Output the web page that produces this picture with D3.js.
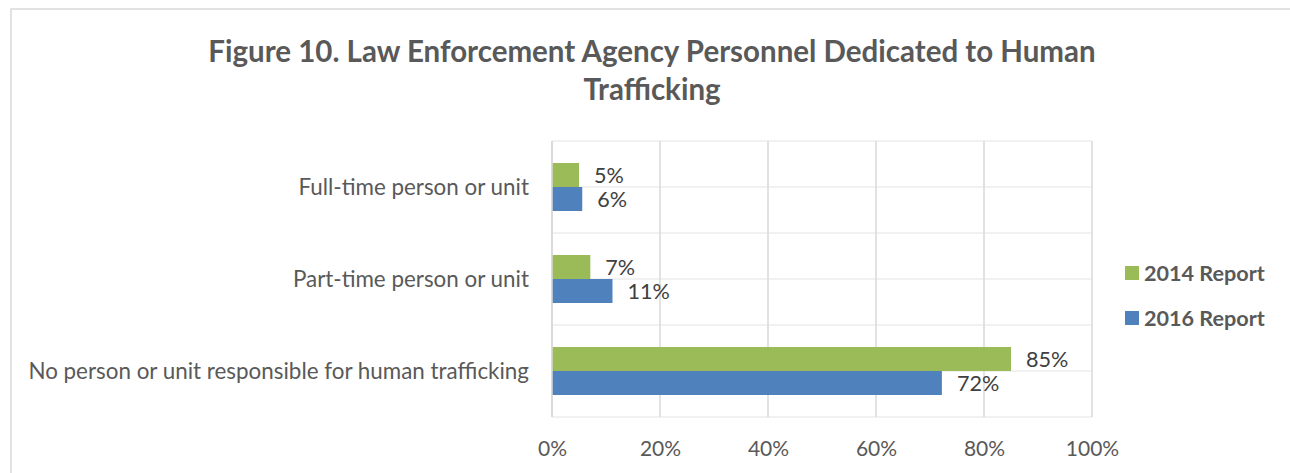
<!DOCTYPE html>
<html lang="en">
<head>
    <meta charset="UTF-8">
    <title>Figure 10</title>
    <script src="https://cdn.jsdelivr.net/npm/d3@7"></script>
    <style>
        body { margin: 0; background: #fff; }
        #chart { width: 1290px; height: 473px; }
        text { font-family: Lato, "Open Sans", sans-serif; }
    </style>
</head>
<body>
    <div id="chart"></div>
<script>
    // data
    const categories = ["Full-time person or unit", "Part-time person or unit", "No person or unit responsible for human trafficking"];
    const seriesNames = ["2014 Report", "2016 Report"];
    const report2014 = [0.050, 0.071, 0.850];
    const report2016 = [0.056, 0.112, 0.722];
    const xTicks = [0, 0.2, 0.4, 0.6, 0.8, 1.0];
    const colors = { "2014 Report": "#9bbb59", "2016 Report": "#4f81bd" };

    const W = 1290, H = 473;
    const svg = d3.select("#chart").append("svg")
        .attr("width", W)
        .attr("height", H);

    // chart border
    svg.append("rect")
        .attr("x", 11).attr("y", 9)
        .attr("width", W + 20).attr("height", H + 20)
        .attr("fill", "none")
        .attr("stroke", "#d9d9d9")
        .attr("stroke-width", 1.5);

    // title
    const title = svg.append("text")
        .attr("text-anchor", "middle")
        .attr("fill", "#595959")
        .attr("font-size", 29.5)
        .attr("font-weight", "bold");
    title.append("tspan").attr("x", 652).attr("y", 62).text("Figure 10. Law Enforcement Agency Personnel Dedicated to Human");
    title.append("tspan").attr("x", 652).attr("y", 100).text("Trafficking");

    const plot = { left: 552, right: 1092, top: 141, bottom: 417 };

    const x = d3.scaleLinear().domain([0, 1]).range([plot.left, plot.right]);
    const y0 = d3.scaleBand().domain(categories).range([plot.top, plot.bottom]);
    const y1 = d3.scaleBand().domain(seriesNames).range([0, y0.bandwidth()]).paddingOuter(0.9167);

    // horizontal grid (band edges and centres)
    const hLines = [];
    categories.forEach(c => { hLines.push(y0(c)); hLines.push(y0(c) + y0.bandwidth() / 2); });
    hLines.push(plot.bottom);
    svg.append("g").selectAll("line").data(hLines).enter().append("line")
        .attr("x1", plot.left).attr("x2", plot.right)
        .attr("y1", d => d).attr("y2", d => d)
        .attr("stroke", "#ececec").attr("stroke-width", 1.5);

    // vertical grid
    svg.append("g").selectAll("line").data(xTicks).enter().append("line")
        .attr("x1", d => x(d)).attr("x2", d => x(d))
        .attr("y1", plot.top).attr("y2", plot.bottom)
        .attr("stroke", "#d9d9d9").attr("stroke-width", 1.5);

    // x axis
    const xAxis = d3.axisBottom(x).tickValues(xTicks).tickFormat(d3.format(".0%")).tickSize(0).tickPadding(0);
    const gx = svg.append("g")
        .attr("transform", "translate(0," + (plot.bottom + 32) + ")")
        .call(xAxis);
    gx.select(".domain").remove();
    gx.selectAll("text")
        .attr("dy", "0.35em")
        .attr("y", 0)
        .attr("font-size", 21)
        .attr("fill", "#595959")
        .style("font-family", "Lato, 'Open Sans', sans-serif");

    // category labels
    svg.append("g").selectAll("text").data(categories).enter().append("text")
        .attr("x", plot.left - 23)
        .attr("y", d => y0(d) + y0.bandwidth() / 2)
        .attr("dy", "0.35em")
        .attr("text-anchor", "end")
        .attr("font-size", 22.4)
        .attr("fill", "#595959")
        .text(d => d);

    // bars
    const rows = categories.map((c, i) => ({
        cat: c,
        values: [{ s: "2014 Report", v: report2014[i] }, { s: "2016 Report", v: report2016[i] }]
    }));
    const groups = svg.append("g").selectAll("g").data(rows).enter().append("g")
        .attr("transform", d => "translate(0," + y0(d.cat) + ")");
    groups.selectAll("rect").data(d => d.values).enter().append("rect")
        .attr("x", x(0))
        .attr("y", d => y1(d.s))
        .attr("width", d => x(d.v) - x(0))
        .attr("height", y1.bandwidth())
        .attr("fill", d => colors[d.s]);
    groups.selectAll("text").data(d => d.values).enter().append("text")
        .attr("x", d => x(d.v) + 15)
        .attr("y", d => y1(d.s) + y1.bandwidth() / 2)
        .attr("dy", "0.35em")
        .attr("font-size", 21.6)
        .attr("fill", "#404040")
        .text(d => d3.format(".0%")(d.v));

    // left axis line
    svg.append("line")
        .attr("x1", plot.left).attr("x2", plot.left)
        .attr("y1", plot.top).attr("y2", plot.bottom)
        .attr("stroke", "#d9d9d9").attr("stroke-width", 1.5);

    // legend
    const legend = svg.append("g").selectAll("g").data(seriesNames).enter().append("g")
        .attr("transform", (d, i) => "translate(1125," + (273 + i * 45) + ")");
    legend.append("rect")
        .attr("x", 0).attr("y", -7)
        .attr("width", 14).attr("height", 14)
        .attr("fill", d => colors[d]);
    legend.append("text")
        .attr("x", 19).attr("dy", "0.35em")
        .attr("font-size", 21.6)
        .attr("font-weight", "bold")
        .attr("fill", "#595959")
        .text(d => d);
</script>
</body>
</html>
